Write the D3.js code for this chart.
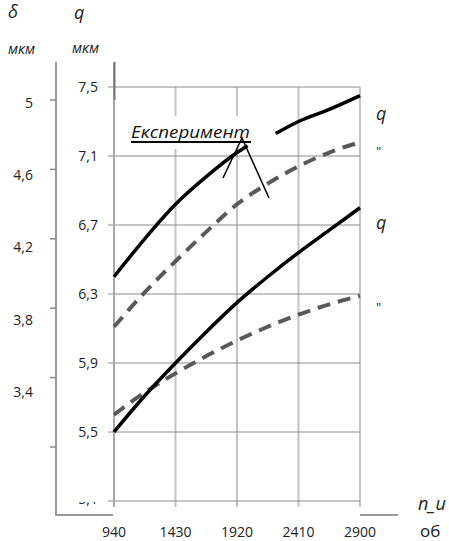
<!DOCTYPE html>
<html lang="uk">
<head>
<meta charset="UTF-8">
<title>q, δ від n_u</title>
<script src="https://cdn.jsdelivr.net/npm/d3@7/dist/d3.min.js"></script>
<style>
    body { margin: 0; background: #fff; }
    text { font-family: "Open Sans", sans-serif; }
</style>
</head>
<body>
<script>
    // n_u ticks and values (об/хв)
    const nTicks = [940, 1430, 1920, 2410, 2900];
    // q axis ticks, мкм
    const qTicks = [5.1, 5.5, 5.9, 6.3, 6.7, 7.1, 7.5];
    // δ axis ticks, мкм
    const deltaTicks = [3.0, 3.4, 3.8, 4.2, 4.6, 5.0];
    const deltaLabels = [3.4, 3.8, 4.2, 4.6, 5.0];

    // series (null = gap under the label)
    const nUpper = [940, 1185, 1430, 1675, 1920, 2004, 2100, 2228, 2410, 2655, 2900];
    const qUpper = [6.40, 6.62, 6.82, 6.98, 7.12, 7.16, null, 7.23, 7.30, 7.37, 7.45];
    const nAll = [940, 1185, 1430, 1675, 1920, 2165, 2410, 2655, 2900];
    const qUpperDash = [6.11, 6.31, 6.49, 6.66, 6.82, 6.94, 7.04, 7.12, 7.18];
    const qLower = [5.50, 5.71, 5.90, 6.08, 6.25, 6.40, 6.54, 6.67, 6.80];
    const qLowerDash = [5.60, 5.73, 5.84, 5.94, 6.03, 6.11, 6.18, 6.24, 6.29];

    const rightLabels = ["q", "\"", "q", "\""];
    const rightLabelQ = [7.34, 7.12, 6.71, 6.22];

    const width = 449, height = 541;
    const svg = d3.select("body").append("svg")
        .attr("width", width).attr("height", height);

    const x = d3.scaleLinear().domain([940, 2900]).range([114, 360]);
    const y = d3.scaleLinear().domain([5.1, 7.5]).range([501, 87]);
    const yDelta = d3.scaleLinear().domain([3.0, 5.0]).range([447, 100]);
    const yDeltaLabel = d3.scaleLinear().domain([3.4, 5.0]).range([392, 103]);

    // vertical grid (light, wide)
    svg.append("g").selectAll("line").data(nTicks).join("line")
        .attr("x1", d => x(d)).attr("x2", d => x(d))
        .attr("y1", y(7.5)).attr("y2", 507)
        .attr("stroke", "#c4c4c4").attr("stroke-width", 2);

    // horizontal grid
    svg.append("g").selectAll("line").data(qTicks).join("line")
        .attr("x1", 108).attr("x2", x(2900))
        .attr("y1", d => y(d)).attr("y2", d => y(d))
        .attr("stroke", "#8a8a8a").attr("stroke-width", 1);

    // q axis line
    svg.append("line").attr("x1", 114).attr("x2", 114)
        .attr("y1", 62).attr("y2", 507)
        .attr("stroke", "#a8a8a8").attr("stroke-width", 2);
    svg.append("line").attr("x1", 114.5).attr("x2", 114.5)
        .attr("y1", 62).attr("y2", 100)
        .attr("stroke", "#777").attr("stroke-width", 2);

    // q tick labels
    svg.append("g").selectAll("text").data(qTicks.filter(d => d > 5.2)).join("text")
        .attr("x", 98).attr("y", d => y(d)).attr("dy", "0.35em")
        .attr("text-anchor", "end").attr("font-size", 14).attr("fill", "#222")
        .text(d => d.toFixed(1).replace(".", ","));

    // 5,1 mostly hidden
    svg.append("clipPath").attr("id", "cut")
        .append("rect").attr("x", 70).attr("y", 502).attr("width", 30).attr("height", 4);
    svg.append("text").attr("clip-path", "url(#cut)")
        .attr("x", 98).attr("y", y(5.1) - 2).attr("dy", "0.35em")
        .attr("text-anchor", "end").attr("font-size", 14).attr("fill", "#222")
        .text("5,1");

    // δ axis
    svg.append("line").attr("x1", 56).attr("x2", 56)
        .attr("y1", 62).attr("y2", 516)
        .attr("stroke", "#999").attr("stroke-width", 2);
    svg.append("g").selectAll("line").data(deltaTicks).join("line")
        .attr("x1", 50).attr("x2", 56)
        .attr("y1", d => yDelta(d)).attr("y2", d => yDelta(d))
        .attr("stroke", "#888").attr("stroke-width", 1.5);
    svg.append("g").selectAll("text").data(deltaLabels).join("text")
        .attr("x", 33).attr("y", d => yDeltaLabel(d)).attr("dy", "0.35em")
        .attr("text-anchor", "end").attr("font-size", 14).attr("fill", "#222")
        .text(d => d === 5 ? "5" : d.toFixed(1).replace(".", ","));

    // broken x axis line
    svg.append("line").attr("x1", 56).attr("x2", 113).attr("y1", 515).attr("y2", 515)
        .attr("stroke", "#999").attr("stroke-width", 2);
    svg.append("line").attr("x1", 360).attr("x2", 398).attr("y1", 515).attr("y2", 515)
        .attr("stroke", "#999").attr("stroke-width", 2);

    // x tick labels
    svg.append("g").selectAll("text").data(nTicks).join("text")
        .attr("x", d => x(d)).attr("y", 532).attr("dy", "0.35em")
        .attr("text-anchor", "middle").attr("font-size", 14).attr("fill", "#222")
        .text(d => d);

    // white box behind the label
    svg.append("rect").attr("x", 125).attr("y", 116).attr("width", 145).attr("height", 33)
        .attr("fill", "#fff");

    const line = d3.line()
        .defined(d => d[1] != null)
        .x(d => x(d[0])).y(d => y(d[1]))
        .curve(d3.curveMonotoneX);

    svg.append("path").datum(nAll.map((n, i) => [n, qUpperDash[i]]))
        .attr("d", line).attr("fill", "none")
        .attr("stroke", "#595959").attr("stroke-width", 4)
        .attr("stroke-dasharray", "13,8");
    svg.append("path").datum(nAll.map((n, i) => [n, qLowerDash[i]]))
        .attr("d", line).attr("fill", "none")
        .attr("stroke", "#595959").attr("stroke-width", 4)
        .attr("stroke-dasharray", "13,8");
    svg.append("path").datum(nUpper.map((n, i) => [n, qUpper[i]]))
        .attr("d", line).attr("fill", "none")
        .attr("stroke", "#000").attr("stroke-width", 3.5);
    svg.append("path").datum(nAll.map((n, i) => [n, qLower[i]]))
        .attr("d", line).attr("fill", "none")
        .attr("stroke", "#000").attr("stroke-width", 3.5);

    // "Експеримент" callout
    svg.append("text").attr("x", 131).attr("y", 138)
        .attr("font-size", 17).attr("font-style", "italic").attr("fill", "#111")
        .attr("textLength", 119).attr("lengthAdjust", "spacingAndGlyphs")
        .text("Експеримент");
    svg.append("line").attr("x1", 131).attr("x2", 251).attr("y1", 142).attr("y2", 142)
        .attr("stroke", "#000").attr("stroke-width", 2);
    svg.append("polyline")
        .attr("points", "223,178 242,138 269,198")
        .attr("fill", "none").attr("stroke", "#000").attr("stroke-width", 1.5);

    // right-hand curve labels
    svg.append("g").selectAll("text").data(rightLabels).join("text")
        .attr("x", 376).attr("y", (d, i) => y(rightLabelQ[i])).attr("dy", "0.3em")
        .attr("font-family", "'Liberation Serif', serif")
        .attr("font-style", d => d === "q" ? "italic" : "normal")
        .attr("font-size", d => d === "q" ? 18 : 13).attr("fill", "#222")
        .text(d => d);

    // axis titles
    const serif = "'Liberation Serif', serif";
    svg.append("text").attr("x", 8).attr("y", 18).attr("font-family", serif)
        .attr("font-style", "italic").attr("font-size", 18).attr("fill", "#222").text("δ");
    svg.append("text").attr("x", 74).attr("y", 19).attr("font-family", serif)
        .attr("font-style", "italic").attr("font-size", 18).attr("fill", "#222").text("q");
    svg.append("text").attr("x", 8).attr("y", 54)
        .attr("font-style", "italic").attr("font-size", 14.5).attr("fill", "#222").text("мкм");
    svg.append("text").attr("x", 72).attr("y", 53)
        .attr("font-style", "italic").attr("font-size", 14.5).attr("fill", "#222").text("мкм");
    svg.append("text").attr("x", 418).attr("y", 510).attr("font-family", serif)
        .attr("font-style", "italic").attr("font-size", 18).attr("fill", "#222").text("n_u");
    svg.append("text").attr("x", 420).attr("y", 537).attr("font-family", serif)
        .attr("font-size", 17).attr("fill", "#222").text("об");
</script>
</body>
</html>
